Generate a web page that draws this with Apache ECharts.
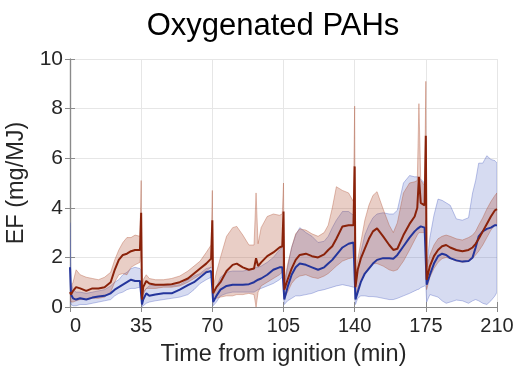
<!DOCTYPE html>
<html>
<head>
<meta charset="utf-8">
<script src="https://cdn.jsdelivr.net/npm/echarts@6/dist/echarts.min.js"></script>
<style>
  html, body { margin: 0; padding: 0; background: #fff; }
  #chart { width: 520px; height: 367px; }
</style>
</head>
<body>
<div id="chart"></div>
<script>
// Time from ignition (min); each 35-min refuelling batch starts with a short spike
const minutes = [
  0, 0.5, 1.5, 3, 5, 8, 11, 14, 17, 20, 22, 24, 26, 28, 30, 32, 34.4, 35,
  35.4, 36, 37.5, 39, 42, 46, 50, 54, 58, 61, 64, 67, 69.4, 70,
  70.4, 72, 74, 77, 80, 82, 85, 88, 90.5, 91.5, 92.5, 94, 97, 100, 103, 104.4, 105,
  105.4, 107, 109, 111, 113, 116, 119, 122, 125, 127, 129, 131, 134, 137, 139.4, 140,
  140.4, 141.5, 143, 145, 147, 149, 151, 154, 157, 159, 161, 164, 167, 169.5, 170.8, 171.6, 172.5, 174.4, 175,
  175.4, 177, 179, 181, 183, 185, 187, 190, 193, 196, 198, 199.5, 201, 203, 205, 207, 209, 210
];

// Red case: mean emission factor and its spread (mg/MJ)
const redMean = [
  0.6, 0.5, 0.65, 0.8, 0.75, 0.65, 0.75, 0.75, 0.8, 1.0, 1.5, 1.9, 2.1, 2.15, 2.25, 2.3, 2.3, 3.8,
  0.3, 0.8, 1.05, 0.95, 0.9, 0.9, 0.92, 1.0, 1.15, 1.35, 1.55, 1.75, 1.95, 3.5,
  0.55, 0.8, 1.0, 1.45, 1.7, 1.75, 1.6, 1.5, 1.55, 1.97, 1.65, 1.8, 2.05, 2.2, 2.4, 2.45, 3.85,
  0.7, 1.1, 1.55, 1.9, 2.1, 2.15, 2.05, 2.0, 2.12, 2.3, 2.45, 2.75, 3.25, 3.3, 3.3, 5.67,
  0.8, 1.5, 1.95, 2.35, 2.75, 3.05, 3.17, 2.85, 2.5, 2.3, 2.35, 2.9, 3.35, 3.65, 4.0, 5.25, 4.2, 4.1, 6.9,
  1.1, 1.65, 2.05, 2.3, 2.45, 2.5, 2.4, 2.3, 2.25, 2.3, 2.4, 2.55, 2.75, 3.05, 3.35, 3.65, 3.9, 3.95
];
const redUpper = [
  0.9, 0.8, 1.0, 1.5, 1.3, 1.2, 1.15, 1.1, 1.2, 1.4, 1.9, 2.3, 2.6, 2.8, 2.8, 2.9, 2.85, 5.1,
  0.7, 1.1, 1.3, 1.15, 1.1, 1.1, 1.15, 1.25, 1.45, 1.65, 1.85, 2.2, 2.5, 4.7,
  0.8, 1.4, 2.0, 2.85, 3.2, 3.25, 2.9, 2.5, 2.5, 4.6, 2.55, 3.2, 3.65, 3.75, 3.7, 3.75, 5.0,
  1.0, 1.7, 2.4, 2.95, 3.15, 3.1, 2.95, 2.85, 3.0, 3.3, 4.0, 4.85, 4.7, 4.6, 4.25, 8.1,
  1.2, 1.9, 2.6, 3.5, 4.1, 4.5, 4.65, 3.95, 3.3, 3.0, 3.4, 4.6, 5.0, 5.05, 5.1, 8.2, 5.1, 4.9, 9.1,
  1.6, 2.1, 2.5, 2.75, 2.85, 2.9, 2.85, 2.75, 2.7, 2.8, 2.9, 3.05, 3.3, 3.6, 3.95, 4.25, 4.5, 4.6
];
const redLower = [
  0.3, 0.2, 0.2, 0.25, 0.3, 0.3, 0.35, 0.35, 0.4, 0.6, 1.0, 1.3, 1.35, 1.3, 1.6, 1.7, 1.8, 2.4,
  0.1, 0.5, 0.75, 0.75, 0.75, 0.8, 0.8, 0.85, 1.0, 1.15, 1.3, 1.45, 1.6, 2.3,
  0.3, 0.35, 0.4, 0.45, 0.45, 0.5, 0.5, 0.55, 0.5, 0.0, 0.6, 0.85, 1.0, 1.15, 1.3, 1.4, 2.5,
  0.35, 0.6, 0.95, 1.15, 1.25, 1.3, 1.2, 1.15, 1.25, 1.35, 1.5, 1.65, 1.85, 1.95, 2.0, 3.0,
  0.45, 0.75, 1.0, 1.35, 1.6, 1.75, 1.75, 1.65, 1.5, 1.45, 1.5, 1.85, 2.3, 2.7, 2.9, 3.0, 3.0, 3.0, 3.5,
  0.7, 1.2, 1.55, 1.8, 1.95, 2.0, 1.95, 1.85, 1.8, 1.85, 1.95, 2.1, 2.25, 2.5, 2.8, 3.1, 3.3, 3.4
];

// Blue case: mean emission factor and its spread (mg/MJ)
const blueMean = [
  1.6, 0.5, 0.35, 0.3, 0.35, 0.3, 0.38, 0.42, 0.45, 0.55, 0.7, 0.8, 0.9, 1.0, 1.1, 1.05, 1.05, 1.05,
  0.1, 0.3, 0.55, 0.45, 0.5, 0.55, 0.55, 0.7, 0.88, 1.0, 1.2, 1.4, 1.45, 1.45,
  0.2, 0.45, 0.7, 0.85, 0.9, 0.9, 0.9, 0.92, 1.0, 1.05, 1.1, 1.15, 1.3, 1.5, 1.6, 1.6, 1.6,
  0.3, 0.8, 1.3, 1.6, 1.75, 1.7, 1.6, 1.5, 1.6, 1.75, 1.9, 2.1, 2.4, 2.55, 2.6, 2.6,
  0.3, 0.6, 1.0, 1.35, 1.55, 1.75, 1.9, 1.97, 1.97, 1.95, 2.1, 2.45, 2.8, 3.05, 3.15, 3.2, 3.25, 3.2, 3.2,
  0.9, 1.3, 1.75, 2.05, 2.15, 2.1, 1.97, 1.88, 1.83, 1.85, 2.0, 2.4, 2.85, 3.05, 3.15, 3.2, 3.3, 3.3
];
const blueUpper = [
  3.4, 1.0, 0.7, 0.6, 0.6, 0.55, 0.6, 0.65, 0.7, 0.85, 1.0, 1.1, 1.3, 1.4, 1.55, 1.6, 1.55, 1.5,
  0.4, 0.6, 0.75, 0.85, 0.9, 0.9, 0.85, 0.9, 1.1, 1.25, 1.35, 1.55, 1.6, 1.6,
  0.5, 0.8, 1.2, 1.4, 1.45, 1.45, 1.45, 1.5, 1.55, 1.6, 1.6, 1.65, 1.8, 2.0, 2.3, 2.4, 2.4,
  0.8, 1.6, 2.4, 2.9, 3.2, 3.0, 2.85, 2.6, 2.65, 2.85, 3.2, 3.5, 3.85, 3.85, 3.7, 3.7,
  0.8, 1.5, 2.2, 2.9, 3.3, 3.6, 3.75, 3.8, 3.75, 3.75, 3.9, 5.0, 5.3, 5.25, 5.25, 5.2, 5.15, 5.0, 5.0,
  1.6, 2.8, 3.7, 4.35, 4.3, 4.2, 4.1, 3.55, 3.5, 3.6, 4.6, 5.1, 5.8, 5.8, 6.1, 5.95, 5.9, 5.8
];
const blueLower = [
  0.3, 0.1, 0.05, 0.05, 0.1, 0.1, 0.15, 0.2, 0.25, 0.3, 0.45, 0.55, 0.6, 0.7, 0.75, 0.75, 0.8, 0.8,
  0.02, 0.05, 0.15, 0.2, 0.25, 0.3, 0.35, 0.4, 0.5, 0.7, 0.95, 1.1, 1.2, 1.2,
  0.05, 0.2, 0.45, 0.55, 0.6, 0.6, 0.6, 0.6, 0.6, 0.65, 0.7, 0.75, 0.85, 0.95, 1.1, 1.2, 1.2,
  0.1, 0.25, 0.35, 0.45, 0.45, 0.5, 0.55, 0.65, 0.7, 0.75, 0.8, 0.85, 0.9, 0.85, 0.8, 0.8,
  0.1, 0.35, 0.45, 0.45, 0.42, 0.42, 0.4, 0.35, 0.3, 0.3, 0.35, 0.45, 0.55, 0.65, 0.7, 0.72, 0.78, 0.85, 0.85,
  0.2, 0.5, 0.45, 0.4, 0.25, 0.15, 0.2, 0.28, 0.25, 0.15, 0.25, 0.3, 0.25, 0.15, 0.1, 0.25, 0.45, 0.6
];

const xTicks = { min: 0, max: 210, interval: 35 };
const yTicks = { min: 0, max: 10, interval: 2 };

const FONT = '"Liberation Sans", Arial, Helvetica, sans-serif';
const AXIS_GRAY = '#8a8a8a';
const TEXT = '#262626';

const pairs = (ys) => minutes.map((t, i) => [t, ys[i]]);

// Shaded spread drawn as one polygon: upper edge forward, lower edge back
function band(name, lower, upper, fill, stroke) {
  return {
    name, type: 'custom', silent: true, clip: true,
    data: [[0, 0]],
    renderItem(params, api) {
      const pts = [];
      for (let i = 0; i < minutes.length; i++) pts.push(api.coord([minutes[i], upper[i]]));
      for (let i = minutes.length - 1; i >= 0; i--) pts.push(api.coord([minutes[i], lower[i]]));
      return {
        type: 'polygon',
        shape: { points: pts },
        style: { fill, stroke, lineWidth: 0.8 }
      };
    }
  };
}

function meanLine(name, values, color) {
  return {
    name, type: 'line', data: pairs(values), showSymbol: false, silent: true,
    lineStyle: { color, width: 2 }, itemStyle: { color }, z: 5
  };
}

const chart = echarts.init(document.getElementById('chart'), null, { renderer: 'canvas' });
chart.setOption({
  animation: false,
  backgroundColor: '#fff',
  title: {
    text: 'Oxygenated PAHs',
    left: 268, top: 6, textAlign: 'center',
    textStyle: { fontFamily: FONT, fontSize: 31, fontWeight: 'normal', color: '#000' }
  },
  grid: { left: 70, right: 23, top: 59, bottom: 60, containLabel: false, outerBoundsMode: 'none' },
  xAxis: [{
    type: 'value', ...xTicks,
    name: 'Time from ignition (min)', nameLocation: 'middle', nameGap: 36,
    nameTextStyle: { fontFamily: FONT, fontSize: 23.5, color: TEXT },
    axisLine: { show: true, lineStyle: { color: AXIS_GRAY, width: 1.2 } },
    axisTick: { show: true, inside: true, length: 5, lineStyle: { color: AXIS_GRAY } },
    axisLabel: { fontFamily: FONT, fontSize: 20, color: TEXT, margin: 9, alignMinLabel: 'left' },
    splitLine: { show: true, lineStyle: { color: '#e6e6e6', width: 1 } }
  }, {
    type: 'value', ...xTicks, position: 'top',
    axisLine: { show: true, lineStyle: { color: AXIS_GRAY, width: 1.2 } },
    axisTick: { show: true, inside: true, length: 5, lineStyle: { color: AXIS_GRAY } },
    axisLabel: { show: false }, splitLine: { show: false }
  }],
  yAxis: [{
    type: 'value', ...yTicks,
    name: 'EF (mg/MJ)', nameLocation: 'middle', nameGap: 40,
    nameTextStyle: { fontFamily: FONT, fontSize: 23.5, color: TEXT },
    axisLine: { show: true, lineStyle: { color: AXIS_GRAY, width: 1.2 } },
    axisTick: { show: true, inside: true, length: 5, lineStyle: { color: AXIS_GRAY } },
    axisLabel: { fontFamily: FONT, fontSize: 21, color: TEXT, margin: 7 },
    splitLine: { show: true, lineStyle: { color: '#e6e6e6', width: 1 } }
  }, {
    type: 'value', ...yTicks, position: 'right',
    axisLine: { show: true, lineStyle: { color: AXIS_GRAY, width: 1.2 } },
    axisTick: { show: true, inside: true, length: 5, lineStyle: { color: AXIS_GRAY } },
    axisLabel: { show: false }, splitLine: { show: false }
  }],
  series: [
    band('Blue spread', blueLower, blueUpper, 'rgba(70,90,190,0.22)', 'rgba(70,90,190,0.45)'),
    band('Red spread', redLower, redUpper, 'rgba(175,75,45,0.27)', 'rgba(175,75,45,0.45)'),
    meanLine('Blue mean', blueMean, '#24359c'),
    meanLine('Red mean', redMean, '#8a220a')
  ]
});
</script>
</body>
</html>
